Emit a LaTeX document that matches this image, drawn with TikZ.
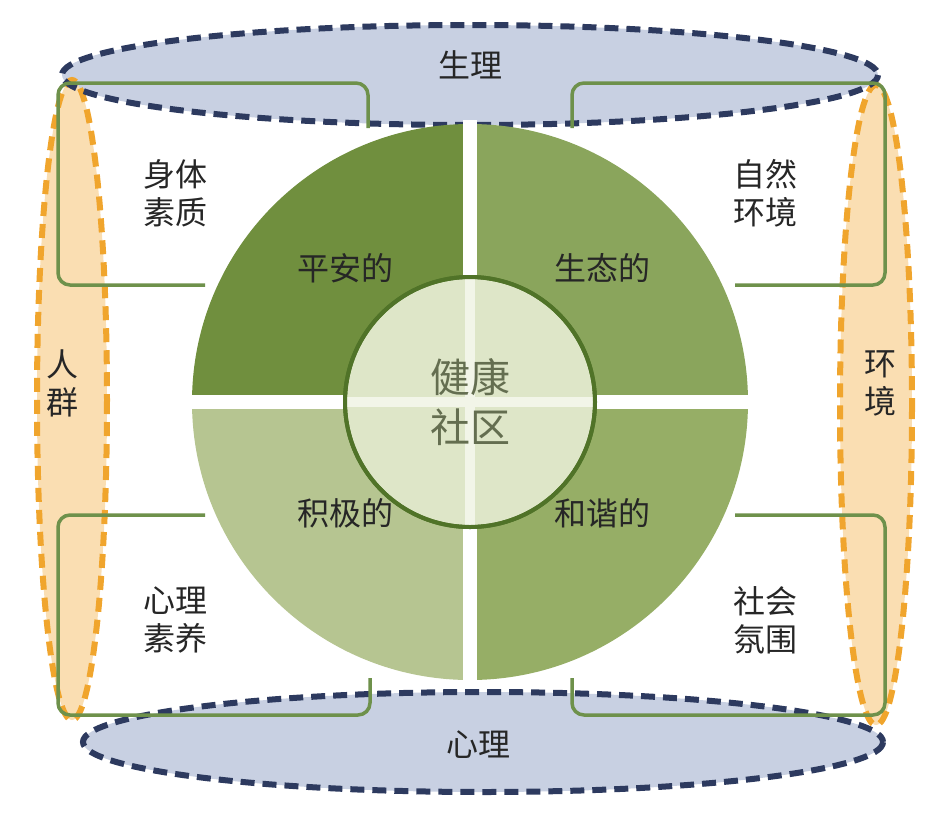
\documentclass[tikz,border=0pt]{standalone}
\usepackage{fontspec}
\newfontfamily\cjk{Noto Sans CJK SC}
\definecolor{brkc}{RGB}{110,145,75}
\definecolor{bluf}{RGB}{200,208,226}
\definecolor{blud}{RGB}{45,58,95}
\definecolor{orgf}{RGB}{250,222,178}
\definecolor{orgd}{RGB}{240,165,45}
\definecolor{qa}{RGB}{112,143,62}
\definecolor{qb}{RGB}{138,165,92}
\definecolor{qc}{RGB}{182,197,145}
\definecolor{qd}{RGB}{150,174,102}
\definecolor{inf}{RGB}{222,230,200}
\definecolor{inl}{RGB}{242,245,232}
\definecolor{ind}{RGB}{80,115,40}
\definecolor{intx}{RGB}{100,110,80}
\begin{document}
\begin{tikzpicture}[x=1pt,y=-1pt,
  lbl/.style={font=\cjk\fontsize{32}{38}\selectfont, align=center, text=black!85},
  brk/.style={draw=brkc, line width=3.5pt, rounded corners=12pt},
  blu/.style={fill=bluf, draw=blud, dash pattern=on 14pt off 8pt, line width=6pt},
  org/.style={fill=orgf, draw=orgd, dash pattern=on 14pt off 8pt, line width=6pt}]
\useasboundingbox (0,0) rectangle (943,812);
\fill[bluf] (470,75) ellipse [x radius=408, y radius=50];
\fill[bluf] (483,742) ellipse [x radius=400, y radius=50];
\draw[org] (72,400) ellipse [x radius=35, y radius=320];
\draw[org] (876,405) ellipse [x radius=36, y radius=320];
\draw[blu,fill=none] (470,75) ellipse [x radius=408, y radius=50];
\draw[blu,fill=none] (483,742) ellipse [x radius=400, y radius=50];
% brackets
\draw[brk] (205,285) -- (58,285) -- (58,83) -- (368,83) -- (368,128);
\draw[brk] (735,285) -- (885,285) -- (885,83) -- (572,83) -- (572,128);
\draw[brk] (205,515) -- (58,515) -- (58,715) -- (370,715) -- (370,678);
\draw[brk] (735,515) -- (885,515) -- (885,715) -- (572,715) -- (572,678);
% quadrants (y axis flipped)
\def\R{278}
\fill[qa] (470,402) -- ++(180:\R) arc[start angle=180,end angle=270,radius=\R] -- cycle;
\fill[qb] (470,402) -- ++(270:\R) arc[start angle=270,end angle=360,radius=\R] -- cycle;
\fill[qc] (470,402) -- ++(180:\R) arc[start angle=180,end angle=90,radius=\R] -- cycle;
\fill[qd] (470,402) -- ++(90:\R) arc[start angle=90,end angle=0,radius=\R] -- cycle;
\draw[white,line width=14pt] (470,120) -- (470,684) (188,402) -- (752,402);
% center
\node[circle, minimum size=250pt, fill=inf, draw=ind, line width=4pt] (c) at (470,402) {};
\draw[inl,line width=10pt] (470,279) -- (470,525) (347,402) -- (593,402);
\draw[ind,line width=4pt] (c.center) circle[radius=125];
\node[font=\cjk\fontsize{40}{50}\selectfont, align=center, text=intx] (ct) at (c.center) {健康\\社区};
% labels
\node[lbl] (n1) at (470,65) {生理};
\node[lbl] (n2) at (478,745) {心理};
\node[lbl] (n3) at (62,383) {人\\群};
\node[lbl] (n4) at (880,383) {环\\境};
\node[lbl] (n5) at (175,193) {身体\\素质};
\node[lbl] (n6) at (765,193) {自然\\环境};
\node[lbl] (n7) at (175,620) {心理\\素养};
\node[lbl] (n8) at (765,620) {社会\\氛围};
\node[lbl] (q1) at (345,268) {平安的};
\node[lbl] (q2) at (602,268) {生态的};
\node[lbl] (q3) at (345,513) {积极的};
\node[lbl] (q4) at (602,513) {和谐的};
\end{tikzpicture}
\end{document}
